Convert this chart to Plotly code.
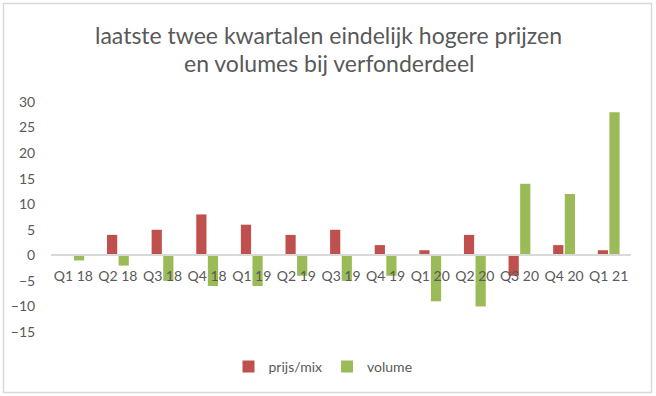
import plotly.graph_objects as go

categories = ["Q1 18", "Q2 18", "Q3 18", "Q4 18", "Q1 19", "Q2 19", "Q3 19",
              "Q4 19", "Q1 20", "Q2 20", "Q3 20", "Q4 20", "Q1 21"]
prijs_mix = [0, 4, 5, 8, 6, 4, 5, 2, 1, 4, -4, 2, 1]
volume = [-1, -2, -5, -6, -6, -4, -5, -4, -9, -10, 14, 12, 28]
y_ticks = [-15, -10, -5, 0, 5, 10, 15, 20, 25, 30]
title_lines = ["laatste twee kwartalen eindelijk hogere prijzen",
               "en volumes bij verfonderdeel"]

FONT = "Lato"
GREY = "#595959"

fig = go.Figure()
fig.add_trace(go.Bar(x=categories, y=prijs_mix, name="prijs/mix",
                     marker=dict(color="#C0504D", line=dict(width=0))))
fig.add_trace(go.Bar(x=categories, y=volume, name="volume",
                     marker=dict(color="#9BBB59", line=dict(width=0))))

W, H = 656, 396
L, R, T, B = 51, 25, 102, 64
pw, ph = W - L - R, H - T - B
ymin, ymax = -15, 30

def px_to_paper_x(px):
    return (px - L) / pw

def px_to_paper_y(py):
    return (H - B - py) / ph

fig.update_layout(
    width=W, height=H,
    margin=dict(l=L, r=R, t=T, b=B, pad=0),
    paper_bgcolor="white", plot_bgcolor="white",
    barmode="group", bargap=0.48, bargroupgap=0.12,
    font=dict(family=FONT, color=GREY, size=14),
    showlegend=True,
    legend=dict(orientation="h", x=px_to_paper_x(323), xanchor="center",
                y=px_to_paper_y(367), yanchor="middle",
                font=dict(size=14, color=GREY), itemclick=False),
    xaxis=dict(type="category", anchor="free",
               position=(0 - ymin) / (ymax - ymin),
               showline=True, linecolor="#D9D9D9", linewidth=1.5,
               showgrid=False, zeroline=False,
               ticks="outside", ticklen=8, tickcolor="rgba(0,0,0,0)",
               tickfont=dict(size=14, color=GREY)),
    yaxis=dict(range=[ymin, ymax], tickvals=y_ticks,
               showgrid=False, zeroline=False, showline=False,
               ticks="outside", ticklen=12, tickcolor="rgba(0,0,0,0)",
               tickfont=dict(size=14, color=GREY)),
)

# outer chart border
fig.add_shape(type="rect", xref="paper", yref="paper",
              x0=px_to_paper_x(3.5), x1=px_to_paper_x(651.5),
              y0=px_to_paper_y(392.5), y1=px_to_paper_y(3.5),
              line=dict(color="#D9D9D9", width=1.5), fillcolor="rgba(0,0,0,0)",
              layer="below")

for line, cy in zip(title_lines, [35, 63]):
    fig.add_annotation(text=line, xref="paper", yref="paper",
                       x=px_to_paper_x(328.5), y=px_to_paper_y(cy),
                       xanchor="center", yanchor="middle", showarrow=False,
                       font=dict(family=FONT, size=23, color=GREY))

fig.write_html("out.html",
               config={"displayModeBar": False},
               post_script="document.body.style.margin='0';"
                           "document.body.style.overflow='hidden';")
